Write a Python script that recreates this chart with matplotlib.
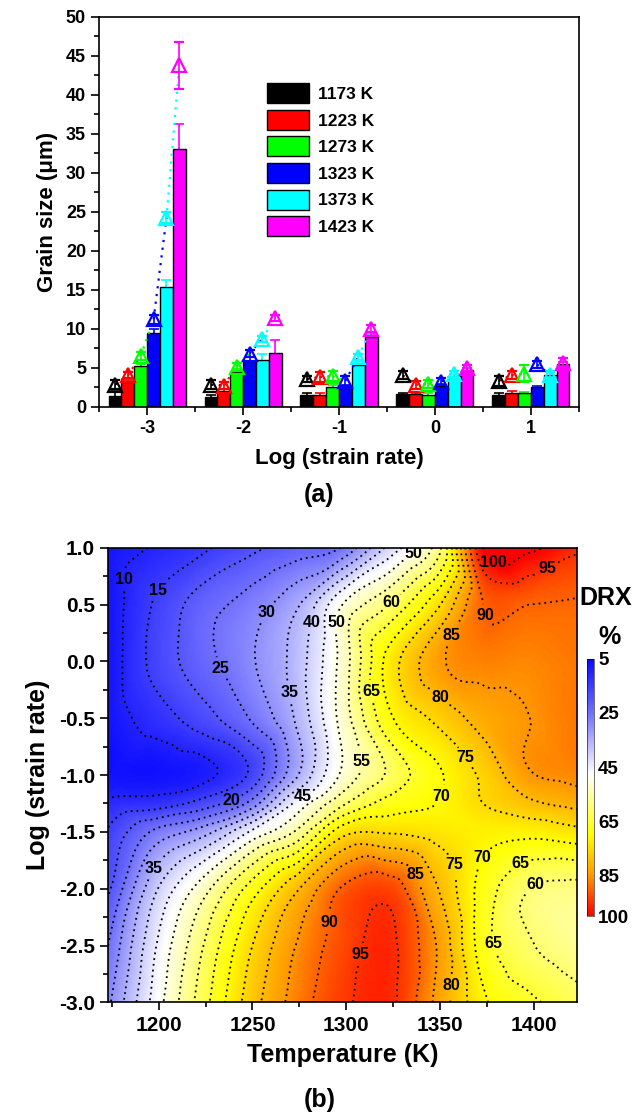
import numpy as np
import matplotlib
matplotlib.use("Agg")
import matplotlib.pyplot as plt
import matplotlib.tri as mtri
from matplotlib.colors import LinearSegmentedColormap, Normalize
from matplotlib.cm import ScalarMappable
from matplotlib.ticker import MultipleLocator

plt.rcParams['font.family'] = ['Liberation Sans', 'DejaVu Sans']
plt.rcParams['font.weight'] = 'bold'
plt.rcParams['axes.labelweight'] = 'bold'
plt.rcParams['axes.linewidth'] = 1.2
plt.rcParams['axes.unicode_minus'] = False

# ---------------- (a) grain size vs strain rate ----------------
log_rate = [-3, -2, -1, 0, 1]
temps = [1173, 1223, 1273, 1323, 1373, 1423]
colors = ['#000000', '#ff0000', '#00ff00', '#0000ff', '#00ffff', '#ff00ff']

# bars (one list per temperature, values at log rate -3..1)
bar_size = [
    [1.3, 1.25, 1.5, 1.6, 1.5],
    [3.1, 2.0, 1.5, 1.6, 1.8],
    [5.2, 4.4, 2.5, 1.5, 1.7],
    [9.4, 5.9, 2.4, 2.6, 2.5],
    [15.4, 6.0, 5.3, 3.9, 4.1],
    [33.0, 6.9, 8.9, 4.7, 5.4],
]
bar_err = [
    [0.7, 0.2, 0.2, 0.2, 0.2],
    [0.3, 0.3, 0.2, 0.2, 0.2],
    [0.3, 0.4, 0.3, 0.2, 0.2],
    [0.6, 0.5, 0.4, 0.3, 0.2],
    [0.8, 0.8, 0.4, 0.3, 0.3],
    [3.3, 1.7, 0.4, 0.3, 0.3],
]
# open triangles
tri_size = [
    [2.8, 2.8, 3.5, 4.0, 3.3],
    [4.0, 2.7, 3.8, 2.8, 4.0],
    [6.5, 5.1, 3.9, 2.9, 4.2],
    [11.2, 6.8, 3.3, 3.2, 5.4],
    [24.2, 8.7, 6.4, 4.2, 4.1],
    [43.8, 11.4, 10.0, 4.9, 5.6],
]
tri_err = [
    [0.6, 0.6, 0.4, 0.5, 0.6],
    [0.4, 0.4, 0.6, 0.5, 0.5],
    [0.5, 0.5, 0.6, 0.5, 1.1],
    [0.6, 0.4, 0.6, 0.4, 0.5],
    [0.7, 0.4, 0.4, 0.4, 0.5],
    [3.0, 0.4, 0.4, 0.4, 0.6],
]

# ---------------- (b) DRX map ----------------
temp_grid = [1173, 1198, 1223, 1248, 1273, 1298, 1323, 1348, 1373, 1398, 1423]
rate_grid = [1.0, 0.5, 0.0, -0.5, -1.0, -1.25, -1.5, -2.0, -2.5, -3.0]
drx = [
    [7, 10.5, 14, 18.5, 22, 25.5, 41.5, 57, 100, 101, 96],
    [7, 15.5, 22.5, 27, 34, 50, 60, 73.5, 90, 90, 89.5],
    [7, 16.5, 23, 29, 37, 52, 72, 83.5, 87, 86.5, 88],
    [7, 12.5, 17.7, 25, 35.5, 52, 69, 76, 82, 85, 88],
    [6.5, 6.5, 8.5, 15.5, 34, 51, 61, 69, 76, 84.5, 86.5],
    [11, 12.5, 17, 26, 46, 59, 67, 70, 75, 79, 81.5],
    [15.5, 26, 32.5, 45, 55.5, 73, 74.5, 73, 71.5, 71.5, 73.5],
    [19, 39, 52.5, 66.5, 79, 90.5, 93, 80.5, 68, 60, 58.5],
    [25, 44.5, 59.5, 74, 85, 92.5, 96, 85, 67.5, 60.5, 57],
    [29, 47, 62.5, 77, 87, 94, 96, 84, 71, 66, 62],
]
drx_levels = list(range(5, 101, 5))
cbar_ticks = [5, 25, 45, 65, 85, 100]
label_pos = [(1183, 0.72), (1201, 0.61), (1232, -0.07), (1261, 0.39), (1282, 0.34),
             (1296, 0.34), (1271, -0.27), (1311, -0.27), (1309, -0.88), (1239, -1.24),
             (1277, -1.2), (1195, -1.8), (1295, -2.3), (1306, -2.58), (1340, -1.85),
             (1356, -1.8), (1370, -1.7), (1353, -2.85), (1381, -2.47), (1401, -1.97),
             (1391, -1.73), (1351, -1.19), (1364, -0.84), (1351, -0.3), (1356, 0.23),
             (1324, 0.52), (1372, 0.39), (1337, 0.92), (1379, 0.88), (1407, 0.83)]

fig = plt.figure(figsize=(6.36, 11.2), dpi=100)

# ---- top panel ----
ax1 = fig.add_axes([0.156, 0.637, 0.754, 0.348])
width = 0.134
for i, (t, c) in enumerate(zip(temps, colors)):
    xs = np.array(log_rate) + (i - 2.5) * width
    ax1.errorbar(xs, bar_size[i], yerr=bar_err[i], fmt='none', ecolor=c,
                 elinewidth=1.2, capsize=3.5, capthick=1.2, zorder=1)
    ax1.bar(xs, bar_size[i], width, color=c, edgecolor='black', linewidth=1.0,
            zorder=2, label=f'{t} K')
    ax1.errorbar(xs, tri_size[i], yerr=tri_err[i], fmt='^', mfc='none', mec=c,
                 ms=10.5, mew=1.6, ecolor=c, elinewidth=1.2, capsize=3.5, zorder=4)

# dotted links between neighbouring triangles in each group
for j, g in enumerate(log_rate):
    for i in range(len(temps) - 1):
        x0 = g + (i - 2.5) * width
        ax1.plot([x0, x0 + width], [tri_size[i][j], tri_size[i + 1][j]],
                 ls=(0, (1, 2.5)), color=colors[i], lw=1.6, zorder=3)

ax1.set_xlim(-3.5, 1.5)
ax1.set_ylim(0, 50)
ax1.set_xticks(log_rate)
ax1.xaxis.set_minor_locator(MultipleLocator(0.5))
ax1.yaxis.set_major_locator(MultipleLocator(5))
ax1.yaxis.set_minor_locator(MultipleLocator(2.5))
ax1.tick_params(which='major', direction='out', length=6, width=1.2, labelsize=13)
ax1.tick_params(which='minor', direction='out', length=3.5, width=1.2)
ax1.set_xlabel('Log (strain rate)', fontsize=16, labelpad=8)
ax1.set_ylabel('Grain size (μm)', fontsize=16, labelpad=6)
ax1.legend(loc='upper left', bbox_to_anchor=(0.318, 0.87), frameon=False,
           fontsize=12.5, handlelength=2.4, handleheight=1.4, labelspacing=0.38,
           handletextpad=0.5)
fig.text(0.502, 0.558, '(a)', ha='center', va='center', fontsize=18, weight='bold')

# ---- bottom panel ----
drx_cmap = LinearSegmentedColormap.from_list(
    'drx', [(0.0, '#0a0aff'), (0.21, '#7070ff'), (0.45, '#ffffff'),
            (0.68, '#ffff00'), (0.84, '#ff9900'), (1.0, '#ff0000')])
norm = Normalize(5, 100)

T, R = np.meshgrid(temp_grid, rate_grid)
z = np.array(drx, dtype=float).ravel()
xn = (T.ravel() - temp_grid[0]) / 25.0
yn = (R.ravel() + 3.0) / 0.5
tri_n = mtri.Triangulation(xn, yn)
interp = mtri.CubicTriInterpolator(tri_n, z, kind='geom')

tq = np.linspace(1173, 1423, 251)
rq = np.linspace(-3, 1, 201)
TQ, RQ = np.meshgrid(tq, rq)
ZQ = np.asarray(interp((TQ - 1173) / 25.0, (RQ + 3.0) / 0.5).filled(np.nan))

ax2 = fig.add_axes([0.170, 0.105, 0.737, 0.406])
ax2.imshow(np.clip(ZQ, 5, 100), extent=[1173, 1423, -3, 1], origin='lower',
           aspect='auto', cmap=drx_cmap, norm=norm, interpolation='bilinear')
cs = ax2.contour(TQ, RQ, ZQ, levels=drx_levels, colors='k', linewidths=1.3,
                 linestyles=[(0, (1, 2.2))])
labels = ax2.clabel(cs, manual=label_pos, fmt='%d', fontsize=11.5, inline=True,
                    inline_spacing=3)
for lab in labels:
    lab.set_rotation(0)

ax2.set_xlim(1173, 1423)
ax2.set_ylim(-3, 1)
ax2.xaxis.set_major_locator(MultipleLocator(50))
ax2.xaxis.set_minor_locator(MultipleLocator(25))
ax2.yaxis.set_major_locator(MultipleLocator(0.5))
ax2.yaxis.set_minor_locator(MultipleLocator(0.25))
ax2.yaxis.set_major_formatter('{x:.1f}')
ax2.tick_params(which='major', direction='out', length=6, width=1.2, labelsize=15)
ax2.tick_params(which='minor', direction='out', length=3.5, width=1.2)
ax2.set_xlabel('Temperature (K)', fontsize=18, labelpad=6)
ax2.set_ylabel('Log (strain rate)', fontsize=18, labelpad=6)
fig.text(0.502, 0.018, '(b)', ha='center', va='center', fontsize=18, weight='bold')

cax = fig.add_axes([0.923, 0.182, 0.011, 0.23])
cb = fig.colorbar(ScalarMappable(norm=norm, cmap=drx_cmap), cax=cax, ticks=cbar_ticks)
cax.invert_yaxis()
cax.tick_params(length=0, labelsize=13.5, pad=3)
cb.outline.set_linewidth(0.4)
fig.text(0.953, 0.466, 'DRX', ha='center', va='center', fontsize=18, weight='bold')
fig.text(0.958, 0.431, '%', ha='center', va='center', fontsize=18, weight='bold')

fig.savefig('out.png', dpi=100)
